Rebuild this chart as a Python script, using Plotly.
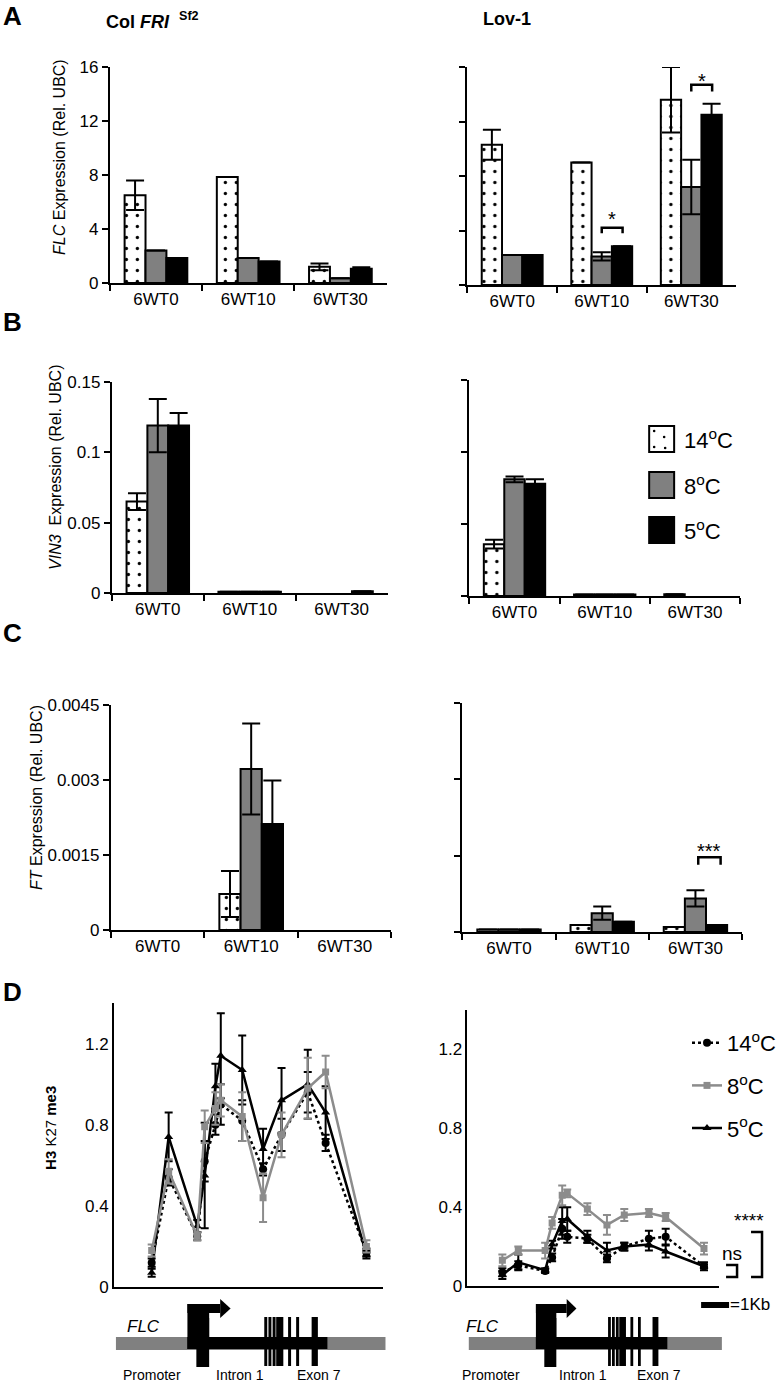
import plotly.graph_objects as go

W, H = 782, 1383
def px(x): return x / W
def py(y): return 1 - y / H

FONT = "Liberation Sans, Arial, Helvetica, sans-serif"
GRAY_BAR = "#808080"
GRAY_LINE = "#8c8c8c"

# ---------------- data ----------------
cats = ["6WT0", "6WT10", "6WT30"]
temps = ["14<sup>o</sup>C", "8<sup>o</sup>C", "5<sup>o</sup>C"]

# A: FLC expression (Rel. UBC)
flc_col_14 = [6.5, 7.85, 1.2]
flc_col_14_err = [1.1, None, 0.25]
flc_col_8 = [2.4, 1.85, 0.35]
flc_col_8_err = [None, None, None]
flc_col_5 = [1.85, 1.6, 1.05]
flc_col_5_err = [None, None, 0.12]

flc_lov_14 = [10.3, 9.0, 13.6]
flc_lov_14_err = [1.1, None, 2.4]
flc_lov_8 = [2.2, 2.1, 7.2]
flc_lov_8_err = [None, 0.3, 2.0]
flc_lov_5 = [2.2, 2.85, 12.5]
flc_lov_5_err = [None, None, 0.8]

# B: VIN3 expression
vin3_col_14 = [0.065, 0.0008, None]
vin3_col_14_err = [0.006, None, None]
vin3_col_8 = [0.119, 0.0008, None]
vin3_col_8_err = [0.019, None, None]
vin3_col_5 = [0.119, 0.0008, 0.0012]
vin3_col_5_err = [0.009, None, None]

vin3_lov_14 = [0.036, 0.001, 0.0012]
vin3_lov_14_err = [0.003, None, None]
vin3_lov_8 = [0.081, 0.001, None]
vin3_lov_8_err = [0.002, None, None]
vin3_lov_5 = [0.078, 0.001, None]
vin3_lov_5_err = [0.003, None, None]

# C: FT expression
ft_col_14 = [None, 0.00072, None]
ft_col_14_err = [None, 0.00046, None]
ft_col_8 = [None, 0.00322, None]
ft_col_8_err = [None, 0.00091, None]
ft_col_5 = [None, 0.00212, None]
ft_col_5_err = [None, 0.00087, None]

ft_lov_14 = [0.00005, 0.00014, 0.0001]
ft_lov_14_err = [None, None, None]
ft_lov_8 = [0.00005, 0.00037, 0.00066]
ft_lov_8_err = [None, 0.00013, 0.00016]
ft_lov_5 = [0.00005, 0.0002, 0.00014]
ft_lov_5_err = [None, None, None]

# D: H3K27me3 along FLC (amplicon position, kb)
amplicon_kb = [0, 0.57, 1.53, 1.78, 2.14, 2.32, 3.04, 3.74, 4.36, 5.24, 5.84, 7.21]

k27_col_14 = [0.12, 0.54, 0.25, 0.62, 0.80, 0.90, 0.82, 0.58, 0.75, 0.96, 0.71, 0.17]
k27_col_14_err = [0.02, 0.04, 0.02, 0.10, 0.05, 0.10, 0.10, 0.03, 0.08, 0.10, 0.04, 0.02]
k27_col_8 = [0.18, 0.57, 0.25, 0.79, 0.88, 0.92, 0.84, 0.44, 0.75, 0.98, 1.06, 0.20]
k27_col_8_err = [0.03, 0.06, 0.02, 0.08, 0.08, 0.08, 0.12, 0.12, 0.11, 0.15, 0.08, 0.03]
k27_col_5 = [0.07, 0.74, 0.30, 0.55, 0.99, 1.14, 1.07, 0.68, 0.92, 1.00, 0.86, 0.16]
k27_col_5_err = [0.02, 0.12, 0.03, 0.26, 0.11, 0.21, 0.17, 0.10, 0.16, 0.17, 0.13, 0.02]

k27_lov_14 = [0.07, 0.105, 0.076, 0.145, 0.29, 0.25, 0.24, 0.14, 0.20, 0.24, 0.25, 0.10]
k27_lov_14_err = [0.02, 0.02, 0.01, 0.02, 0.05, 0.03, 0.02, 0.02, 0.02, 0.04, 0.04, 0.01]
k27_lov_8 = [0.13, 0.18, 0.18, 0.32, 0.46, 0.47, 0.39, 0.31, 0.36, 0.37, 0.35, 0.19]
k27_lov_8_err = [0.03, 0.02, 0.04, 0.03, 0.05, 0.02, 0.03, 0.05, 0.03, 0.02, 0.02, 0.03]
k27_lov_5 = [0.056, 0.12, 0.08, 0.21, 0.33, 0.34, 0.25, 0.18, 0.20, 0.21, 0.175, 0.10]
k27_lov_5_err = [0.02, 0.04, 0.01, 0.02, 0.07, 0.06, 0.03, 0.04, 0.02, 0.03, 0.03, 0.02]

# FLC gene schematic (kb, same coordinates as amplicons)
flank_kb = (-1.2, 7.85)
gene_body_kb = (1.2, 5.9)
tss_box_kb = (1.2, 1.93)
exon1_kb = (1.5, 1.93)
arrow_shaft_end_kb = 2.3
arrow_tip_kb = 2.65
exon_start_kb = [3.78, 3.92, 4.06, 4.18, 4.58, 4.85, 5.37]
exon_end_kb = [3.88, 4.02, 4.16, 4.42, 4.68, 4.95, 5.58]

# ---------------- layout geometry (pixels) ----------------
bar_panels = [
    (1, 110, 387, 67, 283, [0, 16], [0, 4, 8, 12, 16], ["0", "4", "8", "12", "16"], True,
     [(flc_col_14, flc_col_14_err), (flc_col_8, flc_col_8_err), (flc_col_5, flc_col_5_err)]),
    (2, 468, 737, 67, 285, [0, 16], [0, 4, 8, 12, 16], None, False,
     [(flc_lov_14, flc_lov_14_err), (flc_lov_8, flc_lov_8_err), (flc_lov_5, flc_lov_5_err)]),
    (3, 112, 388, 382, 593, [0, 0.15], [0, 0.05, 0.1, 0.15], ["0", "0.05", "0.1", "0.15"], True,
     [(vin3_col_14, vin3_col_14_err), (vin3_col_8, vin3_col_8_err), (vin3_col_5, vin3_col_5_err)]),
    (4, 470, 741, 380, 596, [0, 0.15], [0, 0.05, 0.1, 0.15], None, False,
     [(vin3_lov_14, vin3_lov_14_err), (vin3_lov_8, vin3_lov_8_err), (vin3_lov_5, vin3_lov_5_err)]),
    (5, 111, 392, 705, 930, [0, 0.0045], [0, 0.0015, 0.003, 0.0045], ["0", "0.0015", "0.003", "0.0045"], True,
     [(ft_col_14, ft_col_14_err), (ft_col_8, ft_col_8_err), (ft_col_5, ft_col_5_err)]),
    (6, 463, 743, 703, 932, [0, 0.0045], [0, 0.0015, 0.003, 0.0045], None, False,
     [(ft_lov_14, ft_lov_14_err), (ft_lov_8, ft_lov_8_err), (ft_lov_5, ft_lov_5_err)]),
]

fig = go.Figure()
layout = dict(
    template="none",
    width=W, height=H, margin=dict(l=0, r=0, t=0, b=0, pad=0), autosize=False,
    paper_bgcolor="white", plot_bgcolor="white",
    font=dict(family=FONT, size=17, color="black"),
    barmode="group", bargap=0.32, bargroupgap=0,
)

bar_styles = [
    dict(color="white", line=dict(color="black", width=2),
         pattern=dict(shape=".", fgcolor="black", bgcolor="white", size=11, solidity=0.07)),
    dict(color=GRAY_BAR, line=dict(color="black", width=2)),
    dict(color="black", line=dict(color="black", width=2)),
]

for idx, x0, x1, yt, yb, rng, tv, tt, labels, data in bar_panels:
    xa = "x" if idx == 1 else f"x{idx}"
    ya = "y" if idx == 1 else f"y{idx}"
    for k, (vals, err) in enumerate(data):
        fig.add_trace(go.Bar(
            x=cats, y=vals, name=temps[k], showlegend=False,
            marker=bar_styles[k], offsetgroup=str(k),
            error_y=dict(type="data", array=err, visible=True, color="black",
                         thickness=2, width=9),
            xaxis=xa, yaxis=ya,
        ))
    layout["xaxis" if idx == 1 else f"xaxis{idx}"] = dict(
        domain=[px(x0), px(x1)], anchor=ya, type="category", automargin=False,
        showline=True, linewidth=2, linecolor="black", mirror=False,
        ticks="outside", tickson="boundaries", ticklen=6, tickwidth=2, tickcolor="black",
        showgrid=False, zeroline=False, tickfont=dict(size=17), fixedrange=True,
    )
    layout["yaxis" if idx == 1 else f"yaxis{idx}"] = dict(
        domain=[py(yb), py(yt)], anchor=xa, range=rng, automargin=False,
        showline=True, linewidth=2, linecolor="black",
        ticks="outside", ticklen=6, tickwidth=2, tickcolor="black",
        tickvals=tv, ticktext=tt if tt else None, showticklabels=labels,
        showgrid=False, zeroline=False, tickfont=dict(size=17),
    )

# ---------------- D panels ----------------
d_panels = [
    (7, 114, 383, 1003, 1287, [-1.27, 7.75],
     [(k27_col_14, k27_col_14_err), (k27_col_8, k27_col_8_err), (k27_col_5, k27_col_5_err)], False),
    (8, 468, 720, 1010, 1286, [-1.25, 7.75],
     [(k27_lov_14, k27_lov_14_err), (k27_lov_8, k27_lov_8_err), (k27_lov_5, k27_lov_5_err)], True),
]
line_styles = [
    dict(line=dict(color="black", width=2.5, dash="dot"), marker=dict(symbol="circle", size=8, color="black"), ecol="black"),
    dict(line=dict(color=GRAY_LINE, width=2.5), marker=dict(symbol="square", size=7, color=GRAY_LINE), ecol=GRAY_LINE),
    dict(line=dict(color="black", width=2.5), marker=dict(symbol="triangle-up", size=8, color="black"), ecol="black"),
]
draw_order = [0, 2, 1]
for idx, x0, x1, yt, yb, xr, data, legend in d_panels:
    xa, ya = f"x{idx}", f"y{idx}"
    for k in draw_order:
        vals, err = data[k]
        st = line_styles[k]
        fig.add_trace(go.Scatter(
            x=amplicon_kb, y=vals, mode="lines+markers", name=temps[k],
            line=st["line"], marker=st["marker"],
            error_y=dict(type="data", array=err, visible=True, color=st["ecol"], thickness=2, width=4),
            xaxis=xa, yaxis=ya, showlegend=legend, legendgroup=str(k), legendrank=k + 1,
        ))
    layout[f"xaxis{idx}"] = dict(
        domain=[px(x0), px(x1)], anchor=ya, range=xr, automargin=False,
        showline=True, linewidth=2, linecolor="black", ticks="", showticklabels=False,
        showgrid=False, zeroline=False,
    )
    layout[f"yaxis{idx}"] = dict(
        domain=[py(yb), py(yt)], anchor=xa, range=[0, 1.4], automargin=False,
        showline=True, linewidth=1.5, linecolor="black", ticks="",
        tickvals=[0, 0.4, 0.8, 1.2], ticktext=["0", "0.4", "0.8", "1.2"],
        showgrid=False, zeroline=False, tickfont=dict(size=17),
    )

layout["legend"] = dict(
    x=px(688), y=py(1022), xanchor="left", yanchor="top",
    font=dict(size=22, family=FONT), bgcolor="rgba(0,0,0,0)", borderwidth=0,
    tracegroupgap=11, itemwidth=30, traceorder="grouped",
)

# ---------------- annotations ----------------
ann = []
def text(x, y, s, size=17, xanchor="center", angle=0, **kw):
    ann.append(dict(x=px(x), y=py(y), xref="paper", yref="paper", text=s, showarrow=False,
                    xanchor=xanchor, yanchor="middle", textangle=angle,
                    font=dict(size=size, family=FONT, color="black"), **kw))

for letter, yy in [("A", 16), ("B", 322), ("C", 633), ("D", 992)]:
    text(1, yy, f"<b>{letter}</b>", size=26, xanchor="left")
text(104, 20, "<b>Col <i>FRI</i></b>  <b><sup>Sf2</sup></b>", size=18, xanchor="left")
text(482, 19, "<b>Lov-1</b>", size=18, xanchor="left")

text(59, 157, "<i>FLC</i> Expression (Rel. UBC)", size=16, angle=-90)
text(55, 467, "<i>VIN3</i>  Expression (Rel. UBC)", size=16, angle=-90)
text(36, 797, "<i>FT</i> Expression (Rel. UBC)", size=16, angle=-90)
text(50, 1128, "<b>H3</b> K27 <b>me3</b>", size=15, angle=-90)

# bar legend
shapes = []
leg_rows = [(426, 452, "white"), (472, 498, GRAY_BAR), (517, 543, "black")]
for k, (y0, y1, col) in enumerate(leg_rows):
    shapes.append(dict(type="rect", xref="paper", yref="paper", x0=px(650), x1=px(675),
                       y0=py(y1), y1=py(y0), fillcolor=col, line=dict(color="black", width=2)))
    text(683, (y0 + y1) / 2, temps[k], size=22, xanchor="left")
for dx, dy in [(655, 431), (665, 437), (655, 447), (666, 448)]:
    shapes.append(dict(type="circle", xref="paper", yref="paper", x0=px(dx - 1.3), x1=px(dx + 1.3),
                       y0=py(dy + 1.3), y1=py(dy - 1.3), fillcolor="black", line=dict(width=0)))

# significance brackets (data coordinates)
def bracket(xa, ya, xl, xr, ytop, ybot, star_y, star, size=20):
    shapes.append(dict(type="path", xref=xa, yref=ya,
                       path=f"M {xl},{ybot} L {xl},{ytop} L {xr},{ytop} L {xr},{ybot}",
                       line=dict(color="black", width=2.5)))
    ann.append(dict(x=(xl + xr) / 2, y=star_y, xref=xa, yref=ya, text=star, showarrow=False,
                    font=dict(size=size, family=FONT, color="black")))

bracket("x2", "y2", 1.0, 1.233, 4.2, 3.8, 4.85, "*")
bracket("x2", "y2", 2.0, 2.233, 14.7, 14.2, 15.0, "*")
bracket("x6", "y6", 2.03, 2.27, 0.00147, 0.00132, 0.00160, "***")

# D brackets (paper)
def pshape(path, w=2.5):
    shapes.append(dict(type="path", xref="paper", yref="paper", path=path,
                       line=dict(color="black", width=w)))
def P(x, y): return f"{px(x)},{py(y)}"
pshape(f"M {P(752,1232)} L {P(763,1232)} L {P(763,1277)} L {P(752,1277)}", 2.5)
pshape(f"M {P(727,1265)} L {P(738,1265)} L {P(738,1277)} L {P(727,1277)}", 2.5)
text(750, 1220, "****", size=19)
text(733, 1253, "ns", size=19)
shapes.append(dict(type="rect", xref="paper", yref="paper", x0=px(702), x1=px(730),
                   y0=py(1308), y1=py(1302), fillcolor="black", line=dict(width=0)))
text(729, 1304, "=1Kb", size=17, xanchor="left")

# gene schematics, placed with the D-panel x scales
def kb2px(kb, x0, x1, xr):
    return x0 + (kb - xr[0]) / (xr[1] - xr[0]) * (x1 - x0)

for idx, x0, x1, yt, yb, xr, data, legend in d_panels:
    g = lambda kb: kb2px(kb, x0, x1, xr)
    def rect(a, b, ytop, ybot, col):
        shapes.append(dict(type="rect", xref="paper", yref="paper", x0=px(g(a)), x1=px(g(b)),
                           y0=py(ybot), y1=py(ytop), fillcolor=col, line=dict(width=0)))
    rect(flank_kb[0], flank_kb[1], 1337, 1350, GRAY_BAR)
    rect(gene_body_kb[0], gene_body_kb[1], 1337, 1349, "black")
    rect(tss_box_kb[0], tss_box_kb[1], 1304, 1349, "black")
    rect(exon1_kb[0], exon1_kb[1], 1318, 1367, "black")
    rect(tss_box_kb[0], arrow_shaft_end_kb, 1304, 1313, "black")
    shapes.append(dict(type="path", xref="paper", yref="paper",
                       path=f"M {P(g(arrow_shaft_end_kb),1299)} L {P(g(arrow_tip_kb),1308.5)} L {P(g(arrow_shaft_end_kb),1318)} Z",
                       fillcolor="black", line=dict(width=0)))
    for a, b in zip(exon_start_kb, exon_end_kb):
        rect(a, b, 1317, 1366, "black")

for fx, cx in [(125, [152, 240, 319]), (465, [492, 584, 660])]:
    text(fx, 1326, "<i>FLC</i>", size=17, xanchor="left")
    for c, lab in zip(cx, ["Promoter", "Intron 1", "Exon 7"]):
        text(c, 1375, lab, size=14)

layout["annotations"] = ann
layout["shapes"] = shapes
fig.update_layout(**layout)
fig.write_html(
    "out.html",
    config={"displayModeBar": False},
    post_script="document.body.style.margin='0';document.body.style.overflow='hidden';",
)
